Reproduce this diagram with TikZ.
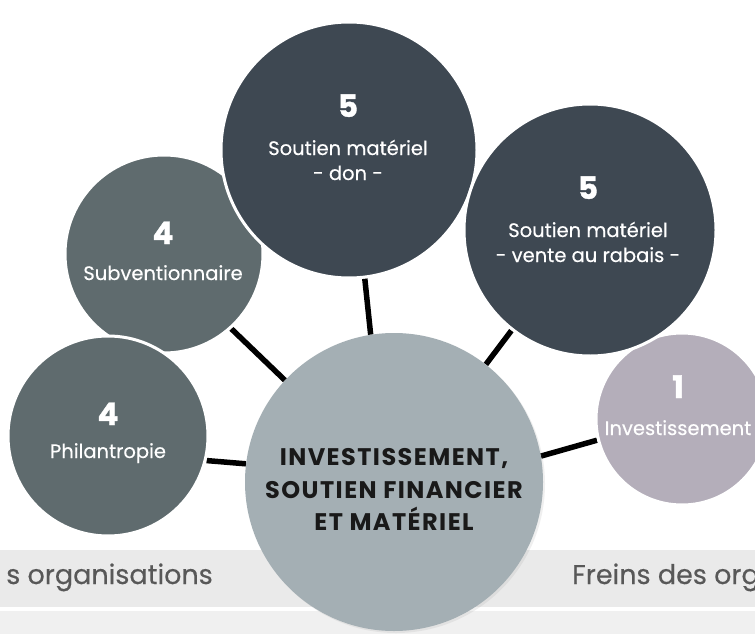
\documentclass[tikz,border=0pt]{standalone}
\usepackage{fontspec}
\setmainfont{Poppins}[UprightFeatures={FakeBold=0.35}]
\newfontfamily\numfont{Poppins}[BoldFeatures={FakeBold=1.2}]
\newfontfamily\corefont{Poppins}[LetterSpace=6]
\usetikzlibrary{backgrounds,shadows}
\definecolor{slatedark}{HTML}{3E4852}
\definecolor{slatemid}{HTML}{5F6B6E}
\definecolor{slatelight}{HTML}{A4AFB4}
\definecolor{lilacgray}{HTML}{B4AEBA}
\definecolor{bandgray}{HTML}{EAEAEA}
\definecolor{bandlight}{HTML}{F0F0F0}
\definecolor{captiongray}{HTML}{585858}

\begin{document}
\begin{tikzpicture}[x=1pt,y=-1pt,
  bubble/.style={circle,draw=white,line width=3pt,inner sep=0pt},
  numtxt/.style={anchor=base,inner sep=0pt,text=white,font=\numfont\bfseries\fontsize{31}{31}\selectfont},
  lbltxt/.style={anchor=base,inner sep=0pt,text=white,font=\fontsize{19.5}{24}\selectfont},
  coretxt/.style={anchor=base,inner sep=0pt,text=black!90,font=\corefont\bfseries\fontsize{24}{30}\selectfont},
  captxt/.style={inner sep=0pt,text=captiongray,font=\fontsize{27}{27}\selectfont},
  link/.style={line width=5.5pt}]
  \useasboundingbox (0,0) rectangle (755,634);
  \clip (0,0) rectangle (755,634);

  % satellites, back to front
  \node[bubble,fill=slatemid,minimum size=198pt] (subv) at (164,254) {};
  \node[bubble,fill=slatemid,minimum size=200pt] (phil) at (108,436) {};
  \node[bubble,fill=slatedark,minimum size=256pt] (don) at (349,150) {};
  \node[bubble,fill=lilacgray,minimum size=172pt] (inv) at (682,419) {};
  \node[bubble,fill=slatedark,minimum size=252pt] (vente) at (590,230) {};

  % central bubble
  \node[circle,fill=slatelight,inner sep=0pt,minimum size=298pt,
    drop shadow={opacity=0.12,shadow xshift=2pt,shadow yshift=-2pt}] (core) at (394,482) {};

  \begin{scope}[on background layer]
    \fill[white] (0,0) rectangle (755,634);
    \fill[bandgray] (0,550) rectangle (755,607);
    \fill[bandlight] (0,611) rectangle (755,634);
    \draw[link] (core.173) -- (phil.-14);
    \draw[link] (core.137) -- (subv.-48);
    \draw[link] (core.99) -- (don.-83);
    \draw[link] (core.52) -- (vente.232);
    \draw[link] (core.10) -- (inv.194);
  \end{scope}

  % labels
  \node[numtxt] (subv-num) at (163,244) {4};
  \node[lbltxt] (subv-lbl) at (163,280) {Subventionnaire};
  \node[numtxt] (phil-num) at (108,425) {4};
  \node[lbltxt] (phil-lbl) at (108,458) {Philantropie};
  \node[numtxt] (don-num) at (348,117) {5};
  \node[lbltxt] (don-lbl) at (348,155) {Soutien matériel};
  \node[lbltxt] (don-sub) at (348,180) {- don -};
  \node[numtxt] (vente-num) at (588,199) {5};
  \node[lbltxt] (vente-lbl) at (588,237) {Soutien matériel};
  \node[lbltxt] (vente-sub) at (588,262) {- vente au rabais -};
  \node[numtxt] (inv-num) at (678,398) {1};
  \node[lbltxt] (inv-lbl) at (678,435) {Investissement};

  \node[coretxt] (core-l1) at (394,465) {INVESTISSEMENT,};
  \node[coretxt] (core-l2) at (394,498) {SOUTIEN FINANCIER};
  \node[coretxt] (core-l3) at (394,530) {ET MATÉRIEL};

  % captions in the grey band
  \node[captxt,anchor=base east] (lever-cap) at (213,584) {s organisations};
  \node[captxt,anchor=base west] (brake-cap) at (572,584) {Freins des org};
\end{tikzpicture}
\end{document}
